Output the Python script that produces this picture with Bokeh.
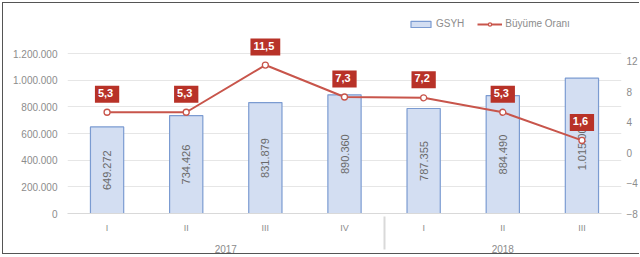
from bokeh.plotting import figure
from bokeh.models import (FactorRange, Range1d, LinearAxis, FixedTicker, Legend,
                          LegendItem, ColumnDataSource)
from bokeh.embed import file_html
from bokeh.resources import INLINE
from bokeh.core.properties import value
import math

years = ["2017", "2017", "2017", "2017", "2018", "2018", "2018"]
quarters = ["I", "II", "III", "IV", "I", "II", "III"]
gdp = [649272, 734426, 831879, 890360, 787355, 884490, 1015000]
growth = [5.3, 5.3, 11.5, 7.3, 7.2, 5.3, 1.6]
left_ticks = [0, 200000, 400000, 600000, 800000, 1000000, 1200000]
left_tick_labels = ["0", "200.000", "400.000", "600.000", "800.000", "1.000.000", "1.200.000"]
right_ticks = [-8, -4, 0, 4, 8, 12]

factors = list(zip(years, quarters))
src = ColumnDataSource(dict(
    x=factors,
    gdp=gdp,
    gdp_mid=[v / 2 for v in gdp],
    gdp_txt=[f"{v:,}".replace(",", ".") for v in gdp],
    growth=growth,
    growth_txt=[f"{v:.1f}".replace(".", ",") for v in growth],
))

FONT = "Liberation Sans"
GRAY = "#8c8c8c"

p = figure(width=637, height=252, output_backend="svg", toolbar_location=None,
           x_range=FactorRange(*factors, range_padding=0, group_padding=0, subgroup_padding=0),
           y_range=Range1d(0, 1500000),
           min_border_left=64, min_border_right=14, min_border_top=10, min_border_bottom=40)
p.extra_y_ranges = {"rate": Range1d(-8, 18.27)}
p.outline_line_color = None
p.background_fill_color = "white"
p.styles = {"margin-left": "2px", "margin-top": "2px",
            "border-left": "1px solid #555", "border-top": "1px solid #555",
            "border-bottom": "1px solid #555"}

bars = p.vbar(x="x", top="gdp", width=0.42, source=src, fill_color="#d3def2",
              line_color="#7b9bd1", line_width=1.2)
p.text(x="x", y="gdp_mid", text="gdp_txt", source=src, angle=math.pi / 2,
       text_align="center", text_baseline="middle", text_font=value(FONT),
       text_font_size="11px", text_color="#6a6a6a")

ln = p.line(x="x", y="growth", source=src, y_range_name="rate", line_color="#c8554b",
            line_width=2)
sc = p.scatter(x="x", y="growth", source=src, y_range_name="rate", size=6,
               fill_color="white", line_color="#c8554b", line_width=1.3)
p.text(x="x", y="growth", text="growth_txt", source=src, y_range_name="rate",
       y_offset=-18, text_align="center", text_baseline="middle",
       text_font=value(FONT), text_font_size="11px", text_font_style="bold",
       text_color="white", background_fill_color="#b83228", padding=[3, 6, 3, 6])

p.ygrid.ticker = FixedTicker(ticks=left_ticks)
p.ygrid.grid_line_color = "#e6e6e6"
p.xgrid.grid_line_color = None

ya = p.yaxis[0]
ya.ticker = FixedTicker(ticks=left_ticks)
ya.major_label_overrides = {t: l for t, l in zip(left_ticks, left_tick_labels)}
ya.axis_line_color = None
ya.major_tick_line_color = None
ya.minor_tick_line_color = None
ya.major_tick_out = 0
ya.major_tick_in = 0
ya.major_label_text_font = FONT
ya.major_label_text_font_size = "10px"
ya.major_label_text_color = GRAY
ya.major_label_standoff = 10

ra = LinearAxis(y_range_name="rate", ticker=FixedTicker(ticks=right_ticks))
ra.axis_line_color = None
ra.major_tick_line_color = None
ra.minor_tick_line_color = None
ra.major_tick_out = 0
ra.major_tick_in = 0
ra.major_label_text_font = FONT
ra.major_label_text_font_size = "10px"
ra.major_label_text_color = GRAY
ra.major_label_standoff = 5
p.add_layout(ra, "right")

xa = p.xaxis[0]
xa.axis_line_color = "#d9d9d9"
xa.major_tick_line_color = None
xa.minor_tick_line_color = None
xa.major_tick_out = 0
xa.major_tick_in = 0
xa.major_label_text_font = FONT
xa.major_label_text_font_size = "9px"
xa.major_label_text_color = GRAY
xa.group_text_font = FONT
xa.group_text_font_size = "10px"
xa.group_text_color = GRAY
xa.group_text_font_style = "normal"
xa.separator_line_color = "#d9d9d9"
xa.major_label_standoff = 9

legend = Legend(items=[LegendItem(label="GSYH", renderers=[bars]),
                       LegendItem(label="Büyüme Oranı", renderers=[ln, sc])],
                orientation="horizontal", location=(341, 184))
legend.label_text_font = FONT
legend.label_text_font_size = "10px"
legend.label_text_color = GRAY
legend.glyph_width = 25
legend.glyph_height = 8
legend.spacing = 13
legend.label_standoff = 3
legend.padding = 0
legend.margin = 0
legend.border_line_color = None
legend.background_fill_alpha = 0
p.add_layout(legend, "center")

open("out.html", "w").write(file_html(p, INLINE))
